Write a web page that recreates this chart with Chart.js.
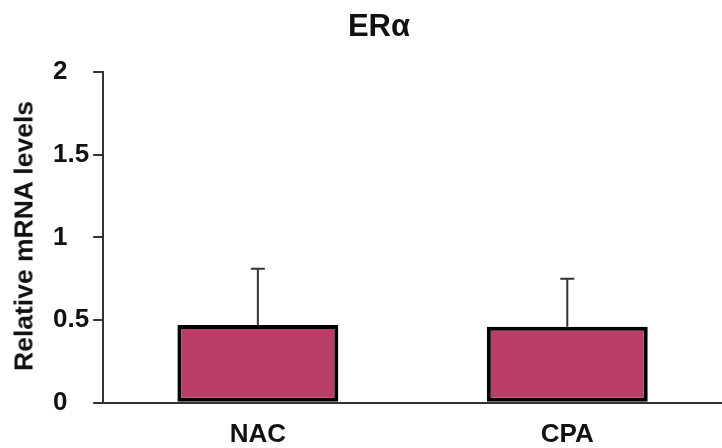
<!DOCTYPE html>
<html>
<head>
<meta charset="utf-8">
<script src="https://cdn.jsdelivr.net/npm/chart.js@4.4.1/dist/chart.umd.min.js"></script>
<style>
  body { margin: 0; background: #fff; }
  #wrap { position: relative; width: 722px; height: 448px; }
  #title { position: absolute; left: 0; top: 10px; width: 758px; text-align: center;
           font: bold 31px "Liberation Sans", Arial, sans-serif; line-height: 32px; color: #111; }
  #ytitle { position: absolute; left: 24px; top: 236px; transform: translate(-50%, -50%) rotate(-90deg);
            white-space: nowrap; font: bold 26.5px "Liberation Sans", Arial, sans-serif; color: #111; }
</style>
</head>
<body>
<div id="wrap">
  <canvas id="myChart" width="722" height="448"></canvas>
  <div id="title">ERα</div>
  <div id="ytitle">Relative mRNA levels</div>
</div>
<script>
// data
const groups = ['NAC', 'CPA'];
const means = [0.47, 0.46];
const errors = [0.34, 0.29];   // upper error only
const yTicks = [0, 0.5, 1, 1.5, 2];

const errorBars = {
  id: 'errorBars',
  afterDatasetsDraw(chart) {
    const ctx = chart.ctx;
    const y = chart.scales.y;
    const meta = chart.getDatasetMeta(0);
    ctx.save();
    ctx.strokeStyle = '#333';
    ctx.lineWidth = 2;
    meta.data.forEach((bar, i) => {
      const top = y.getPixelForValue(means[i] + errors[i]);
      ctx.beginPath();
      ctx.moveTo(bar.x, bar.y);
      ctx.lineTo(bar.x, top);
      ctx.moveTo(bar.x - 7, top);
      ctx.lineTo(bar.x + 7, top);
      ctx.stroke();
    });
    ctx.restore();
  }
};

Chart.defaults.font.family = '"Liberation Sans", Arial, sans-serif';
Chart.defaults.color = '#111';

new Chart(document.getElementById('myChart'), {
  type: 'bar',
  data: {
    labels: groups,
    datasets: [{
      data: means,
      backgroundColor: '#B93D68',
      borderColor: '#000',
      borderWidth: 4,
      borderSkipped: false,
      barPercentage: 0.52,
      categoryPercentage: 1
    }]
  },
  options: {
    responsive: false,
    animation: false,
    layout: { padding: { left: 53, top: 72, right: 0, bottom: -18 } },
    plugins: { legend: { display: false }, tooltip: { enabled: false } },
    scales: {
      x: {
        grid: { display: false, drawTicks: false },
        border: { display: true, color: '#333', width: 2 },
        ticks: { font: { size: 26, weight: 'bold' }, padding: 16 }
      },
      y: {
        min: 0,
        max: 2,
        afterBuildTicks: axis => { axis.ticks = yTicks.map(v => ({ value: v })); },
        grid: { drawOnChartArea: false, drawTicks: true, tickLength: 10, color: '#333', lineWidth: 2 },
        border: { display: true, color: '#333', width: 2 },
        ticks: { font: { size: 26, weight: 'bold' }, padding: 2, crossAlign: 'far', callback: v => String(v) }
      }
    }
  },
  plugins: [errorBars]
});
</script>
</body>
</html>
